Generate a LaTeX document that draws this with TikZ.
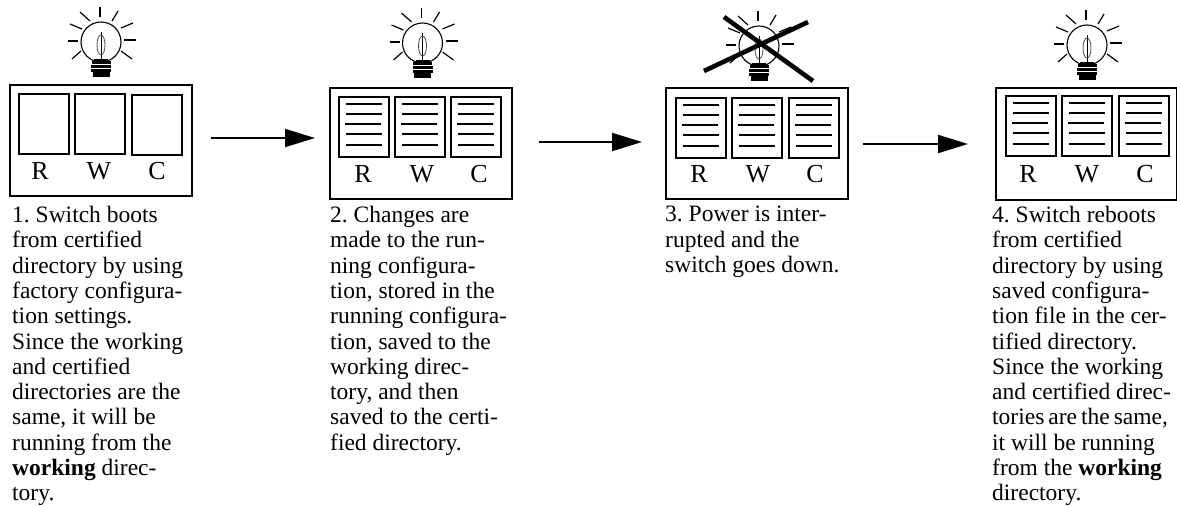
\documentclass[tikz,border=0pt]{standalone}
\usepackage{fontspec}
\setmainfont{Liberation Serif}
\usetikzlibrary{arrows.meta}
\frenchspacing
\tikzset{
  outerbox/.style={draw=black,line width=2.2pt,fill=white,rectangle,inner sep=0pt,anchor=north west},
  innerbox/.style={draw=black,line width=2pt,rectangle,inner sep=0pt,anchor=north west,minimum width=50pt,minimum height=60pt},
  letter/.style={font=\fontsize{26}{26}\selectfont,anchor=base,inner sep=0pt},
  rule/.style={line width=1.7pt},
  ray/.style={line width=1.2pt},
  caption/.style={font=\fontsize{23.5}{25.3}\selectfont,align=left,anchor=north west,inner sep=0pt},
  flow/.style={line width=2pt,-{Triangle[length=30pt,width=18pt]}},
  crossbar/.style={line width=4.6pt}
}
\newcommand{\drawbulb}[2]{%
  \begin{scope}[shift={(#1,#2)}]
    \draw[line width=1.1pt] (0,0) circle (20);
    \draw[ray,line width=1.8pt] (-1,-35) -- (-1,-25);
    \draw[ray] (17,-31) -- (11,-21);
    \draw[ray] (32,-19) -- (20,-14);
    \draw[ray,line width=1.8pt] (23,-2) -- (35,-2);
    \draw[ray] (20,9) -- (31,17);
    \draw[ray] (-20,9) -- (-29,17);
    \draw[ray,line width=1.8pt] (-33,-1) -- (-23,-1);
    \draw[ray] (-31,-18) -- (-19,-13);
    \draw[ray] (-21,-30) -- (-11,-21);
    \draw[line width=.9pt] (0,-10) -- (0,17);
    \draw[line width=.8pt,black!70] (0,3) ellipse (4 and 10);
    \fill[black] (-7,17) rectangle (7,20);
    \draw[line width=3pt] (-9.5,20) -- (9.5,20);
    \draw[line width=3pt] (-10,24.3) -- (10,24.3);
    \draw[line width=3pt] (-10,28.4) -- (10,28.4);
    \fill[black] (-8.5,30) rectangle (8.5,34.5);
  \end{scope}}
\newcommand{\ruled}[2]{%
  \begin{scope}[shift={(#1,#2)}]
    \draw[rule] (8,8) -- (44,8);
    \draw[rule] (8,18) -- (44,18);
    \draw[rule] (7,28) -- (43,28);
    \draw[rule] (8,38) -- (44,38);
    \draw[rule] (8,49) -- (44,49);
  \end{scope}}
\begin{document}
\begin{tikzpicture}[x=1pt,y=-1pt]
\useasboundingbox (0,0) rectangle (1177,506);
% panel 1
\drawbulb{101}{42}
\node[outerbox,minimum width=182pt,minimum height=111pt] (p1) at (9,84) {};
\node[innerbox] (p1r) at (18,93) {};
\node[innerbox] (p1w) at (74,93) {};
\node[innerbox] (p1c) at (131,94) {};
\node[letter] (l1r) at (40,179) {R};
\node[letter] (l1w) at (99,179) {W};
\node[letter] (l1c) at (157,179) {C};
\node[caption] (t1) at (12,206) {1. Switch boots\\from certified\\directory by using\\factory configura-\\tion settings.\\Since the working\\and certified\\directories are the\\same, it will be\\running from the\\\textbf{working} direc-\\tory.};
% panel 2
\drawbulb{422.5}{43}
\node[outerbox,minimum width=182pt,minimum height=111pt] (p2) at (329,87) {};
\node[innerbox] (p2r) at (338,96) {};
\node[innerbox] (p2w) at (394,96) {};
\node[innerbox] (p2c) at (450,96) {};
\ruled{338}{96}\ruled{394}{96}\ruled{450}{96}
\node[letter] (l2r) at (363,182) {R};
\node[letter] (l2w) at (422,182) {W};
\node[letter] (l2c) at (479,182) {C};
\node[caption] (t2) at (330,206) {2. Changes are\\made to the run-\\ning configura-\\tion, stored in the\\running configura-\\tion, saved to the\\working direc-\\tory, and then\\saved to the certi-\\fied directory.};
% panel 3
\drawbulb{759}{46}
\node[outerbox,minimum width=182pt,minimum height=111pt] (p3) at (665,87) {};
\node[innerbox] (p3r) at (675,97) {};
\node[innerbox] (p3w) at (731,97) {};
\node[innerbox] (p3c) at (788,97) {};
\ruled{675}{97}\ruled{731}{97}\ruled{788}{97}
\node[letter] (l3r) at (699,182) {R};
\node[letter] (l3w) at (758,182) {W};
\node[letter] (l3c) at (815,182) {C};
\draw[crossbar] (724,17) -- (813,81);
\draw[crossbar] (704,71) -- (808,22);
\node[caption] (t3) at (665,206) {3. Power is inter-\\rupted and the\\switch goes down.};
% panel 4
\drawbulb{1087}{45}
\node[outerbox,minimum width=181pt,minimum height=112pt] (p4) at (995,87) {};
\node[innerbox] (p4r) at (1005,95) {};
\node[innerbox] (p4w) at (1061,95) {};
\node[innerbox] (p4c) at (1118,95) {};
\ruled{1005}{95}\ruled{1061}{95}\ruled{1118}{95}
\node[letter] (l4r) at (1028,182) {R};
\node[letter] (l4w) at (1087,182) {W};
\node[letter] (l4c) at (1145,182) {C};
\node[caption] (t4) at (992,206) {4. Switch reboots\\from certified\\directory by using\\saved configura-\\tion file in the cer-\\tified directory.\\Since the working\\and certified direc-\\{\spaceskip=.17em tories are the same,}\\it will be running\\from the \textbf{working}\\directory.};
% arrows
\coordinate (a1s) at (211,138); \coordinate (a1e) at (315,138);
\coordinate (a2s) at (539,142); \coordinate (a2e) at (642,142);
\coordinate (a3s) at (863,144); \coordinate (a3e) at (968,144);
\draw[flow] (a1s) -- (a1e);
\draw[flow] (a2s) -- (a2e);
\draw[flow] (a3s) -- (a3e);
\end{tikzpicture}
\end{document}
